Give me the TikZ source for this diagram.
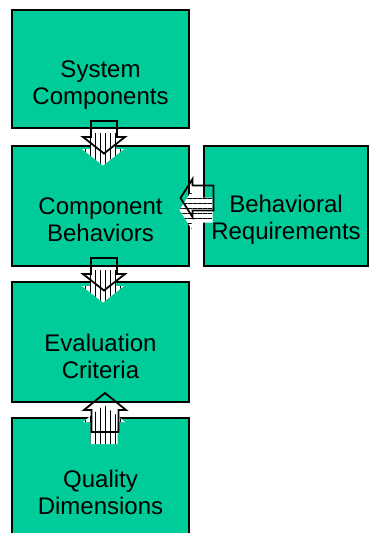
\documentclass[tikz,border=0pt]{standalone}
\usepackage{fontspec}
\setmainfont{Liberation Sans}
\usepackage{tikz}
\usetikzlibrary{positioning, calc, patterns.meta}
\definecolor{boxgreen}{RGB}{0, 204, 153}

\begin{document}
\begin{tikzpicture}[x=1pt, y=-1pt,
        box/.style={rectangle, draw=black, line width=2pt, fill=boxgreen, minimum width=177pt, minimum height=120pt, inner sep=0pt},
        boxtext/.style={align=center, font=\fontsize{24}{27}\selectfont, yshift=-14pt},
        arrowline/.style={draw=black, line width=1.8pt, line join=miter},
        arrowshadow/.style={shift={(-1,12)}, preaction={fill=white}, pattern={Lines[angle=#1, distance=5pt, line width=0.9pt]}},
        pics/down arrow/.style={code={
            \path[arrowshadow=90] (-13,-16) -- (13,-16) -- (13,0) -- (21,0) -- (0,16.5) -- (-21,0) -- (-13,0) -- cycle;
            \path[arrowline] (-13,-16) -- (13,-16) -- (13,0) -- (21,0) -- (0,16.5) -- (-21,0) -- (-13,0) -- cycle;
        }},
        pics/up arrow/.style={code={
            \path[arrowshadow=90] (0,-17) -- (21,0) -- (13.5,0) -- (13.5,22) -- (-13.5,22) -- (-13.5,0) -- (-21,0) -- cycle;
            \path[arrowline] (0,-17) -- (21,0) -- (13.5,0) -- (13.5,22) -- (-13.5,22) -- (-13.5,0) -- (-21,0) -- cycle;
        }},
        pics/left arrow/.style={code={
            \path[arrowshadow=0] (-16,0) -- (-4,-19) -- (-4,-12.5) -- (17,-12.5) -- (17,12.5) -- (-4,12.5) -- (-4,19) -- cycle;
            \path[arrowline] (-16,0) -- (-4,-19) -- (-4,-12.5) -- (17,-12.5) -- (17,12.5) -- (-4,12.5) -- (-4,19) -- cycle;
        }}
    ]
        \useasboundingbox (0,0) rectangle (371,533);

        % boxes
        \node (sys) [box, minimum height=118pt, label={[boxtext, yshift=-2pt]center:System\\Components}] at (100.5,69) {};
        \node (comp) [box, below=16pt of sys, label={[boxtext]center:Component\\Behaviors}] {};
        \node (req) [box, minimum width=164pt, right=13pt of comp, label={[boxtext]center:Behavioral\\Requirements}] {};
        \node (eval) [box, below=14pt of comp, label={[boxtext]center:Evaluation\\Criteria}] {};
        \node (qual) [box, below=14pt of eval, label={[boxtext]center:Quality\\Dimensions}] {};

        % block arrows
        \pic at ($($(sys.south)!0.5!(comp.north)$)+(3.5,0)$) {down arrow};
        \pic at ($($(comp.south)!0.5!(eval.north)$)+(3.5,0)$) {down arrow};
        \pic at ($($(qual.north)!0.5!(eval.south)$)+(4.5,0)$) {up arrow};
        \pic at ($($(comp.east)!0.5!(req.west)$)+(0,-8)$) {left arrow};
    \end{tikzpicture}
\end{document}
